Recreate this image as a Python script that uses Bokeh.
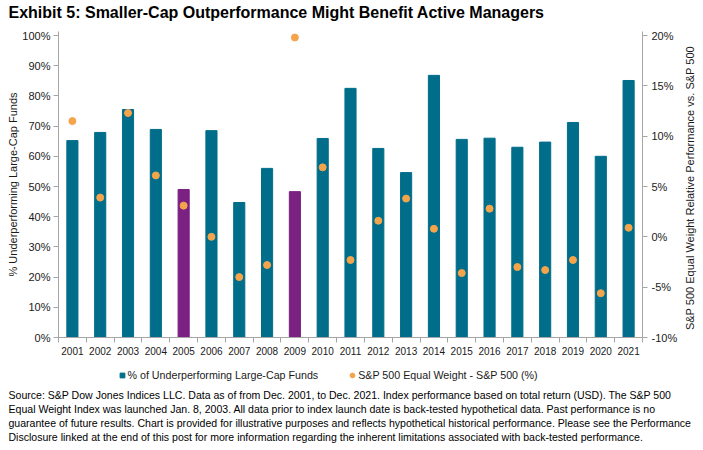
from bokeh.plotting import figure
from bokeh.layouts import column, row
from bokeh.models import (Range1d, LinearAxis, FixedTicker, PrintfTickFormatter,
                          Title, Label, Legend, LegendItem, ColumnDataSource)
from bokeh.embed import file_html
from bokeh.resources import INLINE
import math

# ---------------- data ----------------
years = ["2001", "2002", "2003", "2004", "2005", "2006", "2007", "2008", "2009", "2010",
         "2011", "2012", "2013", "2014", "2015", "2016", "2017", "2018", "2019", "2020", "2021"]
underperforming_pct = [65.2, 67.9, 75.5, 68.9, 49.0, 68.5, 44.7, 56.0, 48.3, 65.9,
                       82.5, 62.6, 54.6, 86.8, 65.6, 66.0, 63.0, 64.7, 71.2, 60.0, 85.1]
ew_minus_sp500_pct = [11.5, 3.9, 12.3, 6.1, 3.1, 0.0, -4.0, -2.8, 19.8, 6.9,
                      -2.3, 1.6, 3.8, 0.8, -3.6, 2.8, -3.0, -3.3, -2.3, -5.6, 0.9]
highlight_years = ["2005", "2009"]
left_ticks = [0, 10, 20, 30, 40, 50, 60, 70, 80, 90, 100]
right_ticks = [-10, -5, 0, 5, 10, 15, 20]

title_text = "Exhibit 5: Smaller-Cap Outperformance Might Benefit Active Managers"
bar_label = "% of Underperforming Large-Cap Funds"
dot_label = "S&P 500 Equal Weight - S&P 500 (%)"
left_axis_label = "% Underperforming Large-Cap Funds"
right_axis_label = "S&P 500 Equal Weight  Relative Performance vs. S&P 500"
footnote_lines = [
    "Source: S&P Dow Jones Indices LLC. Data as of from Dec. 2001, to Dec. 2021. Index performance based on total return (USD). The S&P 500",
    "Equal Weight Index was launched Jan. 8, 2003. All data prior to index launch date is back-tested hypothetical data. Past performance is no",
    "guarantee of future results. Chart is provided for illustrative purposes and reflects hypothetical historical performance. Please see the Performance",
    "Disclosure linked at the end of this post for more information regarding the inherent limitations associated with back-tested performance.",
]

# ---------------- styles ----------------
TEAL = "#006E8A"
PURPLE = "#7B2182"
ORANGE = "#F4A54C"
AXIS_GRAY = "#A6A6A6"
TXT = "#1A1A1A"
FONT = "Liberation Sans"

xs = list(range(len(years)))
colors = [PURPLE if y in highlight_years else TEAL for y in years]
src = ColumnDataSource(dict(x=xs, bar=underperforming_pct, dot=ew_minus_sp500_pct, color=colors))

W = 703
HT = 23            # title strip
H1 = 337           # chart strip (page y 23..360)
H2 = 90            # legend + footnote strip
WR = 23            # strip for the right axis title
W1 = W - WR
FL, FT = 58, 8
FR = W1 - 644
FB = 23
PAD = 4.0 / 3.02   # a few px of headroom so the top dot is not clipped


def bare(fig):
    fig.outline_line_color = None
    fig.grid.visible = False
    fig.background_fill_color = "white"
    fig.border_fill_color = "white"
    return fig


# ---------------- title strip ----------------
t = bare(figure(width=W, height=HT, output_backend="svg", toolbar_location=None,
                x_range=Range1d(0, 1), y_range=Range1d(0, 1),
                min_border_left=FL, min_border_right=0, min_border_top=0, min_border_bottom=HT - 1,
                x_axis_location=None, y_axis_location=None))
t.add_layout(Title(text=title_text, align="left", offset=-50, standoff=0,
                   text_font=FONT, text_font_size="16px", text_font_style="bold",
                   text_color="#000000"), "below")

# ---------------- chart ----------------
p = bare(figure(width=W1, height=H1, output_backend="svg", toolbar_location=None,
                x_range=Range1d(-0.5, len(years) - 0.5),
                y_range=Range1d(left_ticks[0], left_ticks[-1] + PAD),
                min_border_left=FL, min_border_right=FR, min_border_top=FT, min_border_bottom=FB))
p.extra_y_ranges = {"rel": Range1d(right_ticks[0], right_ticks[-1] + PAD * 30 / 100)}

p.vbar(x="x", top="bar", width=0.4, color="color", source=src)
p.scatter(x="x", y="dot", size=7, color=ORANGE, y_range_name="rel", source=src)

xa = p.xaxis[0]
xa.ticker = FixedTicker(ticks=xs, minor_ticks=[i - 0.5 for i in range(len(years) + 1)])
xa.major_label_overrides = {i: y for i, y in enumerate(years)}
xa.major_tick_line_color = None
xa.major_tick_out = 5
xa.major_tick_in = 0
xa.minor_tick_line_color = AXIS_GRAY
xa.minor_tick_out = 5
xa.minor_tick_in = 0
xa.axis_line_color = AXIS_GRAY
xa.major_label_text_font = FONT
xa.major_label_text_font_size = "10px"
xa.major_label_text_color = TXT
xa.major_label_standoff = 4

ya = p.yaxis[0]
ya.ticker = FixedTicker(ticks=left_ticks)
ya.formatter = PrintfTickFormatter(format="%d%%")
ya.minor_tick_line_color = None
ya.major_tick_line_color = AXIS_GRAY
ya.major_tick_out = 5
ya.major_tick_in = 0
ya.axis_line_color = AXIS_GRAY
ya.major_label_text_font = FONT
ya.major_label_text_font_size = "11px"
ya.major_label_text_color = TXT
ya.major_label_standoff = 3
ya.axis_label = left_axis_label
ya.axis_label_text_font = FONT
ya.axis_label_text_font_size = "11px"
ya.axis_label_text_font_style = "normal"
ya.axis_label_text_color = TXT
ya.axis_label_standoff = 0

ra = LinearAxis(y_range_name="rel", ticker=FixedTicker(ticks=right_ticks),
                formatter=PrintfTickFormatter(format="%d%%"))
ra.minor_tick_line_color = None
ra.major_tick_line_color = AXIS_GRAY
ra.major_tick_out = 5
ra.major_tick_in = 0
ra.axis_line_color = AXIS_GRAY
ra.major_label_text_font = FONT
ra.major_label_text_font_size = "11px"
ra.major_label_text_color = TXT
ra.major_label_standoff = 4
p.add_layout(ra, "right")

# ---------------- right axis title strip ----------------
r = bare(figure(width=WR, height=H1, output_backend="svg", toolbar_location=None,
                x_range=Range1d(0, 1), y_range=p.y_range,
                min_border_left=0, min_border_right=0, min_border_top=FT, min_border_bottom=FB,
                x_axis_location=None, y_axis_location=None))
r.add_layout(Label(x=689 - W1, x_units="screen", y=(left_ticks[0] + left_ticks[-1]) / 2,
                   text=right_axis_label, angle=math.pi / 2,
                   text_align="center", text_baseline="middle",
                   text_font=FONT, text_font_size="11px", text_color=TXT))

# ---------------- legend + footnote strip ----------------
q = bare(figure(width=W, height=H2, output_backend="svg", toolbar_location=None,
                x_range=Range1d(0, 1), y_range=Range1d(0, 1),
                min_border_left=FL, min_border_right=0, min_border_top=0, min_border_bottom=64,
                x_axis_location=None, y_axis_location=None))
leg_sq = q.scatter(x="x", y="bar", source=src, marker="square", color=TEAL, visible=False)
leg_dot = q.scatter(x="x", y="dot", source=src, marker="circle", color=ORANGE, visible=False)
legend = Legend(items=[LegendItem(label=bar_label, renderers=[leg_sq]),
                       LegendItem(label=dot_label, renderers=[leg_dot])],
                location=(57.5, 1), orientation="horizontal",
                glyph_width=12, glyph_height=12, label_standoff=-2, spacing=28,
                padding=0, margin=0, border_line_color=None, background_fill_alpha=0,
                inactive_fill_alpha=0,
                label_text_font=FONT, label_text_font_size="10.7px", label_text_color=TXT,
                label_height=20)
q.add_layout(legend, "center")

for line in footnote_lines:
    q.add_layout(Title(text=line, align="left", offset=-50, standoff=0,
                       text_font=FONT, text_font_size="10.55px", text_font_style="normal",
                       text_color="#000000"), "below")

layout = column(t, row(p, r, spacing=0), q, spacing=0)
open("out.html", "w").write(file_html(layout, INLINE))
